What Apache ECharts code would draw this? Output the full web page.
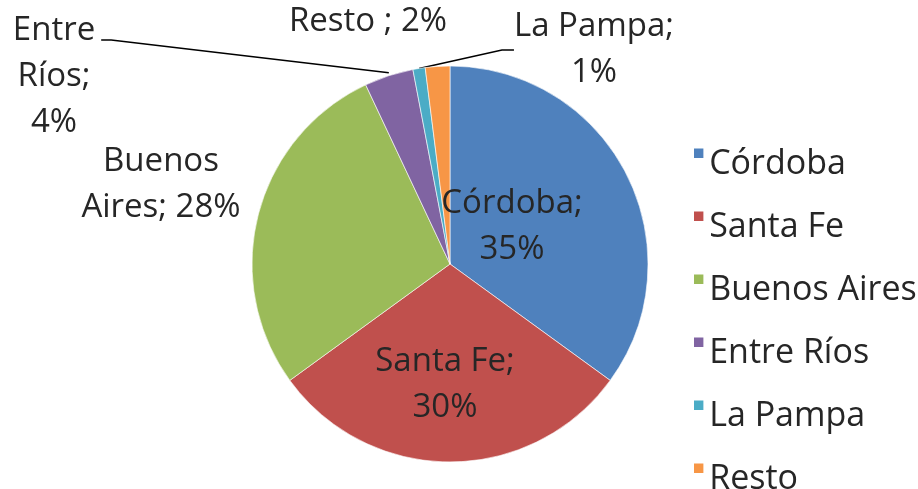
<!DOCTYPE html>
<html>
<head>
<meta charset="utf-8">
<script src="https://cdn.jsdelivr.net/npm/echarts@6/dist/echarts.min.js"></script>
<style>
html,body{margin:0;padding:0;background:#fff;}
#chart{width:918px;height:489px;}
</style>
</head>
<body>
<div id="chart"></div>
<script>
// ---- data ----
const categories = ['Córdoba', 'Santa Fe', 'Buenos Aires', 'Entre Ríos', 'La Pampa', 'Resto '];
const values = [35, 30, 28, 4, 1, 2];

// ---- styles / layout (not data) ----
const colors = ['#4F81BD', '#C0504D', '#9BBB59', '#8064A2', '#4BACC6', '#F79646'];
const labelPositions = ['inside', 'inside', 'outside', 'outside', 'outside', 'outside'];
// how each label's text wraps
const labelWrapModes = ['split', 'split', 'wrapName', 'stack', 'split', 'inline'];
const showLeader = [false, false, false, true, true, false];
const labelAnchors = [[512, 227], [445, 385], [161, 185], [54, 77], [594, 50], [368, 22]];
// leader line attaches beside the first text line for these labels ('right' / 'left' / null = auto)
const leaderSide = [null, null, null, 'right', null, null];
const FONT = '"Open Sans", "Noto Sans", sans-serif';

function labelText(name, value, mode) {
  const pct = value + '%';
  if (mode === 'split') return name + ';\n' + pct;
  if (mode === 'wrapName') return name.replace(' ', '\n') + '; ' + pct;
  if (mode === 'stack') return name.split(' ').join('\n') + ';\n' + pct;
  return name + '; ' + pct;
}

const chart = echarts.init(document.getElementById('chart'), null, {renderer: 'canvas'});

const seriesData = categories.map((name, i) => ({
  name: name,
  value: values[i],
  itemStyle: {color: colors[i]},
  label: {position: labelPositions[i]},
  labelLine: {show: showLeader[i]}
}));

chart.setOption({
  backgroundColor: '#ffffff',
  animation: false,
  legend: {
    orient: 'vertical',
    left: 689,
    top: 139,
    height: 380,
    itemWidth: 11,
    itemHeight: 31,
    itemGap: 23,
    icon: 'path://M0,0H10V10H0Z M0,33L0.001,33',
    itemStyle: {borderWidth: 0},
    data: categories,
    textStyle: {
      fontFamily: FONT,
      fontSize: 34,
      lineHeight: 40,
      color: '#262626'
    }
  },
  series: [{
    type: 'pie',
    center: [450, 264],
    radius: 198,
    startAngle: 90,
    clockwise: true,
    avoidLabelOverlap: false,
    itemStyle: {borderColor: '#ffffff', borderWidth: 0.6},
    label: {
      show: true,
      formatter: p => labelText(p.name, p.value, labelWrapModes[p.dataIndex]),
      fontFamily: FONT,
      fontSize: 33,
      lineHeight: 46,
      color: '#262626',
      align: 'center'
    },
    labelLine: {
      length: 15,
      length2: 12,
      lineStyle: {color: '#000000', width: 1.5}
    },
    labelLayout: function (params) {
      const i = params.dataIndex;
      const a = labelAnchors[i];
      const res = {x: a[0], y: a[1], align: 'center', verticalAlign: 'middle'};
      if (leaderSide[i] && params.labelLinePoints && params.labelLinePoints.length) {
        const w = params.labelRect.width, h = params.labelRect.height;
        const top = a[1] - h / 2;
        const right = a[0] + w / 2;
        const yLine = top + 32;
        const p0 = params.labelLinePoints[0];
        res.labelLinePoints = [[p0[0], p0[1] - 3], [right + 16, yLine], [right + 6, yLine]];
      }
      return res;
    },
    emphasis: {disabled: true},
    data: seriesData
  }]
});
</script>
</body>
</html>
